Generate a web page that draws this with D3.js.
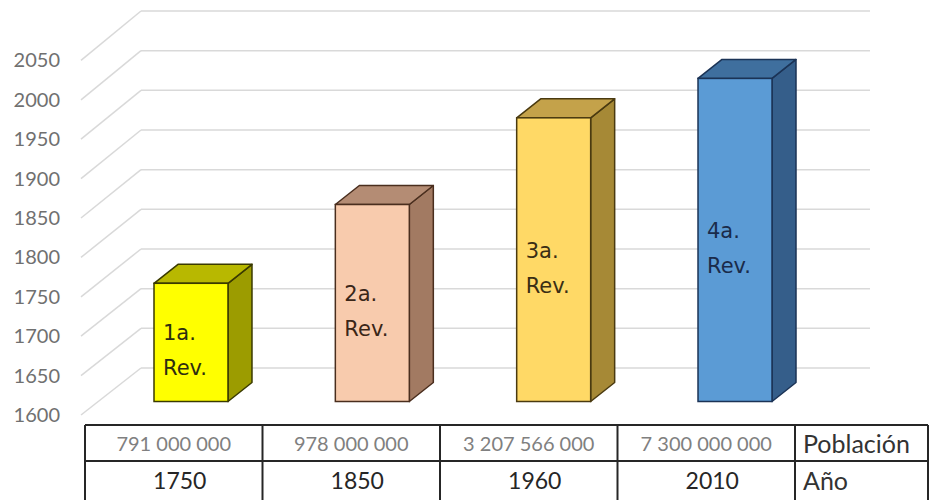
<!DOCTYPE html>
<html>
<head>
<meta charset="utf-8">
<script src="https://cdn.jsdelivr.net/npm/d3@7"></script>
<style>
  html, body { margin: 0; padding: 0; background: #fff; }
  svg { display: block; }
</style>
</head>
<body>
<svg id="chart" width="930" height="500"></svg>
<script>
// ---- data ----
const years = ["1750", "1850", "1960", "2010"];
const values = [1750, 1850, 1960, 2010];
const population = ["791 000 000", "978 000 000", "3 207 566 000", "7 300 000 000"];
const barLabels = [["1a.", "Rev."], ["2a.", "Rev."], ["3a.", "Rev."], ["4a.", "Rev."]];
const yTicks = [1600, 1650, 1700, 1750, 1800, 1850, 1900, 1950, 2000, 2050];
const rowTitles = ["Población", "Año"];

// ---- styles ----
const palette = [
  { front: "#FFFF00", top: "#B8B800", side: "#9C9C00", stroke: "#3A3A00", text: "#2E2E10" },
  { front: "#F8CBAD", top: "#B48C74", side: "#A27A62", stroke: "#4A2E1E", text: "#3A2618" },
  { front: "#FFD966", top: "#C4A24A", side: "#A68936", stroke: "#4A3A10", text: "#3A2E14" },
  { front: "#5B9BD5", top: "#3F6F9E", side: "#355E8A", stroke: "#1B3356", text: "#1A2B4A" }
];
const sansFont = "Lato, 'Open Sans', sans-serif";

const svg = d3.select("#chart");

// geometry
const yMin = 1600, yMax = 2050;
const y = d3.scaleLinear().domain([yMin, yMax]).range([401.5, 46.9]);          // bar front plane
const yFront = d3.scaleLinear().domain([yMin, yMax]).range([415, 60.4]);      // floor front edge
const yBack = d3.scaleLinear().domain([yMin, yMax]).range([368, 11]);         // back wall
const frontX = 81, backX = 141, wallRight = 870;
const depth = { dx: 24, dy: -19 };

const x = d3.scaleBand().domain(years).range([154, 772]).paddingInner(0.592).paddingOuter(0);

// back wall gridlines
const grid = svg.append("g");
grid.selectAll("line.h").data(yTicks).join("line")
  .attr("x1", backX).attr("x2", wallRight)
  .attr("y1", d => yBack(d)).attr("y2", d => yBack(d))
  .attr("stroke", "#d9d9d9").attr("stroke-width", 1.5);
grid.selectAll("line.d").data(yTicks).join("line")
  .attr("x1", frontX).attr("x2", backX)
  .attr("y1", d => yFront(d)).attr("y2", d => yBack(d))
  .attr("stroke", "#d9d9d9").attr("stroke-width", 1.5);

// y axis labels
const axis = svg.append("g")
  .attr("transform", `translate(${frontX},0)`)
  .call(d3.axisLeft(yFront).tickValues(yTicks).tickSize(0).tickPadding(21).tickFormat(d3.format("d")));
axis.select(".domain").remove();
axis.selectAll("text")
  .style("font-family", sansFont)
  .style("font-size", "20px").attr("fill", "#707070");

// bars
const bars = svg.append("g").selectAll("g").data(values).join("g");
bars.each(function (v, i) {
  const g = d3.select(this);
  const c = palette[i];
  const x0 = x(years[i]), w = x.bandwidth();
  const yt = y(v), yb = y(yMin);
  const { dx, dy } = depth;
  g.append("polygon")
    .attr("points", [[x0 + w, yt], [x0 + w + dx, yt + dy], [x0 + w + dx, yb + dy], [x0 + w, yb]].join(" "))
    .attr("fill", c.side).attr("stroke", c.stroke).attr("stroke-width", 1.5).attr("stroke-linejoin", "round");
  g.append("polygon")
    .attr("points", [[x0, yt], [x0 + dx, yt + dy], [x0 + w + dx, yt + dy], [x0 + w, yt]].join(" "))
    .attr("fill", c.top).attr("stroke", c.stroke).attr("stroke-width", 1.5).attr("stroke-linejoin", "round");
  g.append("rect")
    .attr("x", x0).attr("y", yt).attr("width", w).attr("height", yb - yt)
    .attr("fill", c.front).attr("stroke", c.stroke).attr("stroke-width", 1.5);
  const mid = (yt + yb) / 2 + 8;
  const lines = barLabels[i];
  const lh = 35;
  g.append("g").selectAll("text").data(lines).join("text")
    .attr("x", x0 + 9)
    .attr("y", (d, j) => mid + (j - (lines.length - 1) / 2) * lh)
    .attr("dy", "0.35em")
    .style("font-family", "'DejaVu Sans', sans-serif")
    .style("font-size", "21px")
    .attr("fill", c.text)
    .text(d => d);
});

// data table
const tx = d3.scaleBand().domain(years).range([85, 795]);
const tLeft = 85, tRight = 928, tTop = 425, tMid = 461, tBottom = 502;
const table = svg.append("g");
const lineColor = "#262626";
table.append("line").attr("x1", tLeft).attr("x2", tRight).attr("y1", tTop).attr("y2", tTop)
  .attr("stroke", lineColor).attr("stroke-width", 2);
table.append("line").attr("x1", tLeft).attr("x2", tRight).attr("y1", tMid).attr("y2", tMid)
  .attr("stroke", lineColor).attr("stroke-width", 2);
const vlines = years.map(d => tx(d)).concat([tx.range()[1], tRight]);
table.selectAll("line.v").data(vlines).join("line")
  .attr("x1", d => d).attr("x2", d => d).attr("y1", tTop).attr("y2", tBottom)
  .attr("stroke", lineColor).attr("stroke-width", 2);

table.selectAll("text.pop").data(population).join("text")
  .attr("x", (d, i) => tx(years[i]) + tx.bandwidth() / 2)
  .attr("y", (tTop + tMid) / 2 + 1).attr("dy", "0.35em")
  .attr("text-anchor", "middle")
  .style("font-family", sansFont).style("font-size", "20px").attr("fill", "#808080")
  .text(d => d);
table.selectAll("text.yr").data(years).join("text")
  .attr("x", d => tx(d) + tx.bandwidth() / 2 + 6)
  .attr("y", 481).attr("dy", "0.35em")
  .attr("text-anchor", "middle")
  .style("font-family", sansFont).style("font-size", "23px").attr("fill", "#262626")
  .text(d => d);
table.selectAll("text.rt").data(rowTitles).join("text")
  .attr("x", tx.range()[1] + 8)
  .attr("y", (d, i) => i === 0 ? (tTop + tMid) / 2 + 1 : 481).attr("dy", "0.35em")
  .style("font-family", sansFont).style("font-size", "25px").attr("fill", "#333")
  .text(d => d);
</script>
</body>
</html>
